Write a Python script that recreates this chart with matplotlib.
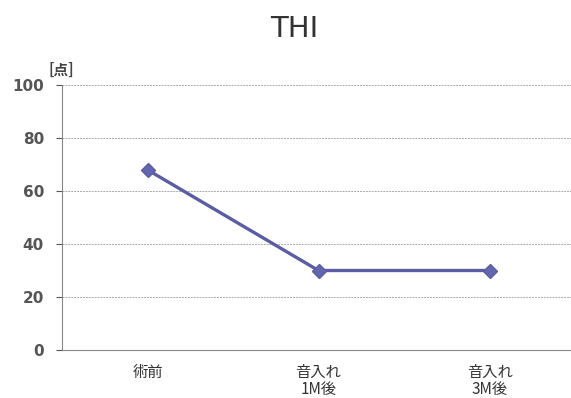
import matplotlib
matplotlib.use("Agg")
import matplotlib.pyplot as plt

plt.rcParams['font.family'] = ['Noto Sans CJK JP', 'DejaVu Sans']

categories = ['術前', '音入れ\n1M後', '音入れ\n3M後']
thi_scores = [68, 30, 30]
y_ticks = [0, 20, 40, 60, 80, 100]

fig = plt.figure(figsize=(5.71, 3.98), dpi=100)
ax = fig.add_axes([62 / 571, 48 / 398, 513 / 571, 265 / 398])

ax.plot(range(len(categories)), thi_scores, color='#5b5ca3', linewidth=2.4,
        marker='D', markersize=7, markeredgecolor='#5b5ca3', markerfacecolor='#6466ad')

ax.set_xlim(-0.5, len(categories) - 0.5)
ax.set_ylim(0, 100)
ax.set_yticks(y_ticks)
ax.set_xticks(range(len(categories)))
ax.set_xticklabels(categories, fontsize=11, color='#333333', linespacing=1.0)
for lbl in ax.get_yticklabels():
    lbl.set_fontweight('bold')
    lbl.set_fontfamily('DejaVu Sans')
ax.tick_params(axis='y', labelsize=11, colors='#555555', length=4, width=0.8, pad=9)
ax.tick_params(axis='x', length=0, pad=10)

ax.yaxis.grid(True, color='#aaaaaa', linestyle=(0, (2, 1)), linewidth=0.7)
ax.set_axisbelow(True)
for side in ['top', 'right']:
    ax.spines[side].set_visible(False)
ax.spines['left'].set_color('#888888')
ax.spines['bottom'].set_color('#888888')

fig.text(294 / 571, 1 - 29 / 398, 'THI', ha='center', va='center', fontsize=21,
         family='DejaVu Sans', color='#333333')
fig.text(61 / 571, 1 - 70 / 398, '[点]', ha='center', va='center', fontsize=10.5,
         fontweight='bold', color='#444444')

fig.savefig('out.png', dpi=100)
